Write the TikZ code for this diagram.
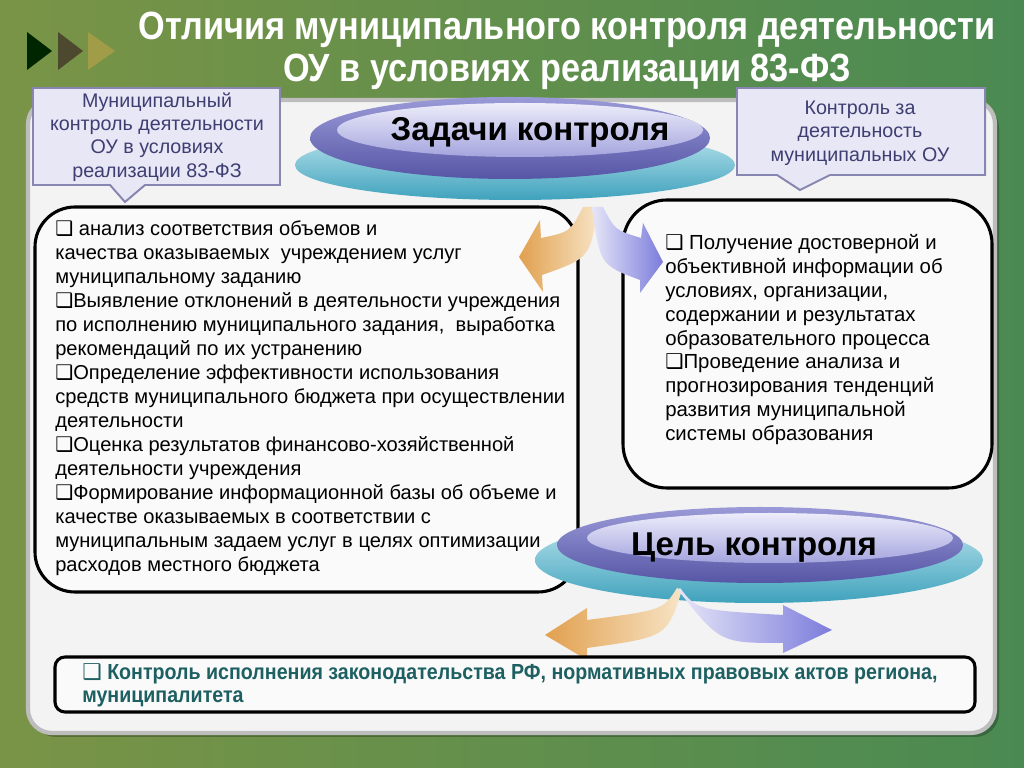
\documentclass[tikz,border=0pt]{standalone}
\usepackage{fontspec}
\setmainfont{Liberation Sans}
\newfontfamily\narrowfont[FakeStretch=0.87]{Liberation Sans}
\newfontfamily\goalfont[FakeStretch=0.9]{Liberation Sans}
\newfontfamily\boxfont{DejaVu Sans}
\usetikzlibrary{positioning, shapes, calc}
\usepackage{xcolor}
\definecolor{bgLeft}{HTML}{7A9446}
\definecolor{bgMid}{HTML}{22402A}
\definecolor{bgRight}{HTML}{4A8A52}
\definecolor{panelFill}{HTML}{F3F3F3}
\definecolor{panelLine}{HTML}{BDBDBD}
\definecolor{calloutFill}{HTML}{E7E7F6}
\definecolor{calloutLine}{HTML}{8686B0}
\definecolor{calloutText}{HTML}{3E3E72}
\definecolor{tealLight}{HTML}{BFE6EF}
\definecolor{tealDark}{HTML}{3FA2BC}
\definecolor{purpleLight}{HTML}{9A9AD8}
\definecolor{purpleDark}{HTML}{5656A6}
\definecolor{innerLight}{HTML}{ECECFA}
\definecolor{innerDark}{HTML}{A4A4DE}
\definecolor{arrowOrange}{HTML}{E1A04E}
\definecolor{arrowOrangeLight}{HTML}{F7E4C6}
\definecolor{arrowPurple}{HTML}{7C7CDC}
\definecolor{arrowPurpleLight}{HTML}{E6E6F8}
\definecolor{goalText}{HTML}{1E6062}
\newcommand{\sqmark}{{\boxfont ❑}}

\begin{document}
\begin{tikzpicture}[x=0.025cm, y=0.025cm,
	thickbox/.style={draw=black, line width=2.2pt, fill=white!60!panelFill},
	callout/.style={draw=calloutLine, line width=1.4pt, fill=calloutFill},
	calltext/.style={text=calloutText, font=\fontsize{14}{16.6}\selectfont, align=center},
	listtext/.style={font=\fontsize{14.3}{17.1}\selectfont, align=left, inner sep=0pt, anchor=north west},
	headtext/.style={font=\bfseries\fontsize{23.5}{26}\selectfont},
	titletext/.style={font=\narrowfont\bfseries\fontsize{28}{29.5}\selectfont, align=center}
	]
	\useasboundingbox (0,0) rectangle (1024,768);
	\shade[left color=bgLeft, middle color=bgMid, right color=bgRight] (0,0) rectangle (1024,768);

	% markers and title
	\fill[black!85!green] (27,736) -- (27,698) -- (52,717) -- cycle;
	\fill[black!60!olive] (58,736) -- (58,698) -- (83,717) -- cycle;
	\fill[olive!80!black!70!white] (88,736) -- (88,698) -- (115,717) -- cycle;
	\node (title)[titletext, text=white] at (567,717) {Отличия муниципального контроля деятельности\\ОУ в условиях реализации 83-ФЗ};

	% panel
	\fill[black, opacity=0.25, rounded corners=0.6cm] (32,31) rectangle (999,664);
	\draw[panelLine, fill=panelFill, line width=3pt, rounded corners=0.6cm] (28,35) rectangle (995,668);

	% callouts
	\draw[callout] (33,680) -- (280,680) -- (280,583) -- (145,583) -- (125,566) -- (110,583) -- (33,583) -- cycle;
	\node (municipalNote)[calltext] at (157,631) {Муниципальный\\контроль деятельности\\ОУ в условиях\\реализации 83-ФЗ};
	\draw[callout] (737,680) -- (985,680) -- (985,593) -- (830,593) -- (800,578) -- (777,593) -- (737,593) -- cycle;
	\node (controlNote)[calltext] at (860,635) {Контроль за\\деятельность\\муниципальных ОУ};

	% tasks ellipse
	\shade[top color=tealLight, bottom color=tealDark] (515,603) ellipse (220 and 35);
	\shade[top color=purpleLight, bottom color=purpleDark] (510,630) ellipse (200 and 41);
	\shade[top color=innerLight, bottom color=innerDark] (520,638) ellipse (183 and 27);
	\node (tasks)[headtext] at (530,636) {Задачи контроля};

	% list boxes
	\draw[thickbox, rounded corners=1cm] (35,561) rectangle (578,176);
	\node (taskList)[listtext] at (55,548) {\sqmark\ анализ соответствия объемов и\\
		качества оказываемых\ \ учреждением услуг\\
		муниципальному заданию\\
		\sqmark Выявление отклонений в деятельности учреждения\\
		по исполнению муниципального задания,\ \ выработка\\
		рекомендаций по их устранению\\
		\sqmark Определение эффективности использования\\
		средств муниципального бюджета при осуществлении\\
		деятельности\\
		\sqmark Оценка результатов финансово-хозяйственной\\
		деятельности учреждения\\
		\sqmark Формирование информационной базы об объеме и\\
		качестве оказываемых в соответствии с\\
		муниципальным задаем услуг в целях оптимизации\\
		расходов местного бюджета};
	\draw[thickbox, rounded corners=1.1cm] (623,568) rectangle (992,280);
	\node (infoList)[listtext, font=\fontsize{14.5}{17}\selectfont] at (665,534) {\sqmark\ Получение достоверной и\\
		объективной информации об\\
		условиях, организации,\\
		содержании и результатах\\
		образовательного процесса\\
		\sqmark Проведение анализа и\\
		прогнозирования тенденций\\
		развития муниципальной\\
		системы образования};

	% upper arrows
	\shade[left color=arrowOrange, right color=arrowOrangeLight] (583,561) .. controls (570,536) .. (541,530) -- (540,548) -- (519,511) -- (543,476) -- (542,493) .. controls (590,510) .. (598,561) -- cycle;
	\shade[left color=arrowPurpleLight, right color=arrowPurple] (603,561) .. controls (615,538) .. (641,530) -- (643,545) -- (663,506) -- (640,475) -- (640,488) .. controls (600,503) .. (592,561) -- cycle;

	% goal ellipse
	\shade[top color=tealLight, bottom color=tealDark] (759,208) ellipse (224 and 43);
	\shade[top color=purpleLight, bottom color=purpleDark] (760,223) ellipse (203 and 38);
	\shade[top color=innerLight, bottom color=innerDark] (770,230) ellipse (183 and 25);
	\node (goal)[headtext] at (754,220) {Цель контроля};

	% lower arrows
	\shade[left color=arrowOrange, right color=arrowOrangeLight] (677,180) .. controls (663,158) .. (587,148) -- (587,160) -- (545,133) -- (587,108) -- (587,120) .. controls (667,131) .. (682,178) -- cycle;
	\shade[left color=arrowPurpleLight, right color=arrowPurple] (680,180) .. controls (697,158) .. (783,153) -- (783,163) -- (832,138) -- (783,115) -- (783,125) .. controls (720,125) .. (678,178) -- cycle;

	% goal box
	\draw[thickbox, rounded corners=0.25cm] (55,111) rectangle (975,56);
	\node (goalText)[listtext, text=goalText, font=\goalfont\bfseries\fontsize{15.5}{16.5}\selectfont] at (82,105) {\sqmark\ Контроль исполнения законодательства РФ, нормативных правовых актов региона,\\муниципалитета};
\end{tikzpicture}
\end{document}
